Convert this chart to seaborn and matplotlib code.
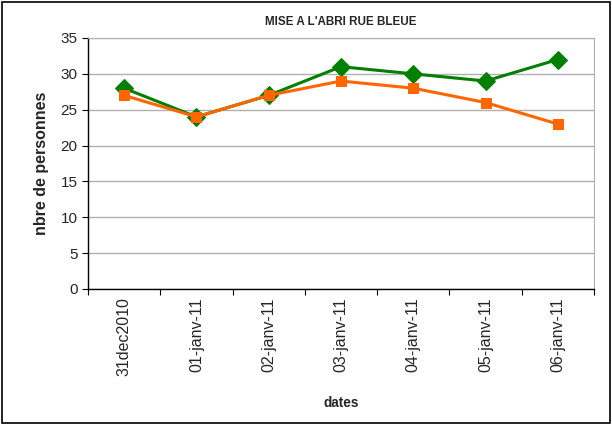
import matplotlib
matplotlib.use('Agg')
import matplotlib.pyplot as plt
import seaborn as sns
import pandas as pd
from matplotlib.patches import Rectangle

dates = ['31dec2010', '01-janv-11', '02-janv-11', '03-janv-11',
         '04-janv-11', '05-janv-11', '06-janv-11']
serie_verte = [28, 24, 27, 31, 30, 29, 32]
serie_orange = [27, 24, 27, 29, 28, 26, 23]

df = pd.DataFrame({'pos': range(len(dates)), 'date': dates,
                   'verte': serie_verte, 'orange': serie_orange})

sns.set_style('white')
plt.rcParams['font.family'] = ['Liberation Sans', 'DejaVu Sans']

fig = plt.figure(figsize=(6.12, 4.25), dpi=100)
ax = fig.add_axes([0.1438, 0.32, 0.8268, 0.5906])

sns.lineplot(df, x='pos', y='verte', ax=ax, color='#007f00', marker='D',
             markersize=9, markeredgecolor='#007f00', linewidth=2.2)
sns.lineplot(df, x='pos', y='orange', ax=ax, color='#ff6600', marker='s',
             markersize=7.5, markeredgecolor='#ff6600', linewidth=2.2)

ax.set_xlim(-0.5, len(dates) - 0.5)
ax.set_ylim(0, 35)
ax.set_yticks(range(0, 36, 5))
ax.yaxis.grid(True, color='#b0b0b0', linewidth=1)
ax.set_axisbelow(True)

# ticks between categories, labels at centres (Excel style)
ax.set_xticks([i - 0.5 for i in range(len(dates) + 1)])
ax.set_xticklabels([])
ax.set_xticks(range(len(dates)), minor=True)
ax.set_xticklabels(dates, minor=True, rotation=90, fontsize=11.5)
ax.tick_params(axis='x', which='minor', length=0, pad=6)
ax.tick_params(axis='x', which='major', length=4, direction='out', bottom=True, color='black')
ax.tick_params(axis='y', length=4, direction='out', left=True, labelsize=11, color='black')

for side in ['top', 'right']:
    ax.spines[side].set_color('#b0b0b0')
for side in ['left', 'bottom']:
    ax.spines[side].set_color('black')
    ax.spines[side].set_linewidth(1)

ax.set_xlabel('dates', fontsize=9.8, fontweight='bold', labelpad=14)
ax.set_ylabel('nbre de personnes', fontsize=11.5, fontweight='bold', labelpad=8)
ax.set_title("MISE A L'ABRI RUE BLEUE", fontsize=8.4, fontweight='bold', pad=9)

fig.patches.append(Rectangle((0.004, 0.004), 0.992, 0.992, transform=fig.transFigure,
                             fill=False, edgecolor='black', linewidth=1.2))

fig.savefig('out.png', dpi=100)
